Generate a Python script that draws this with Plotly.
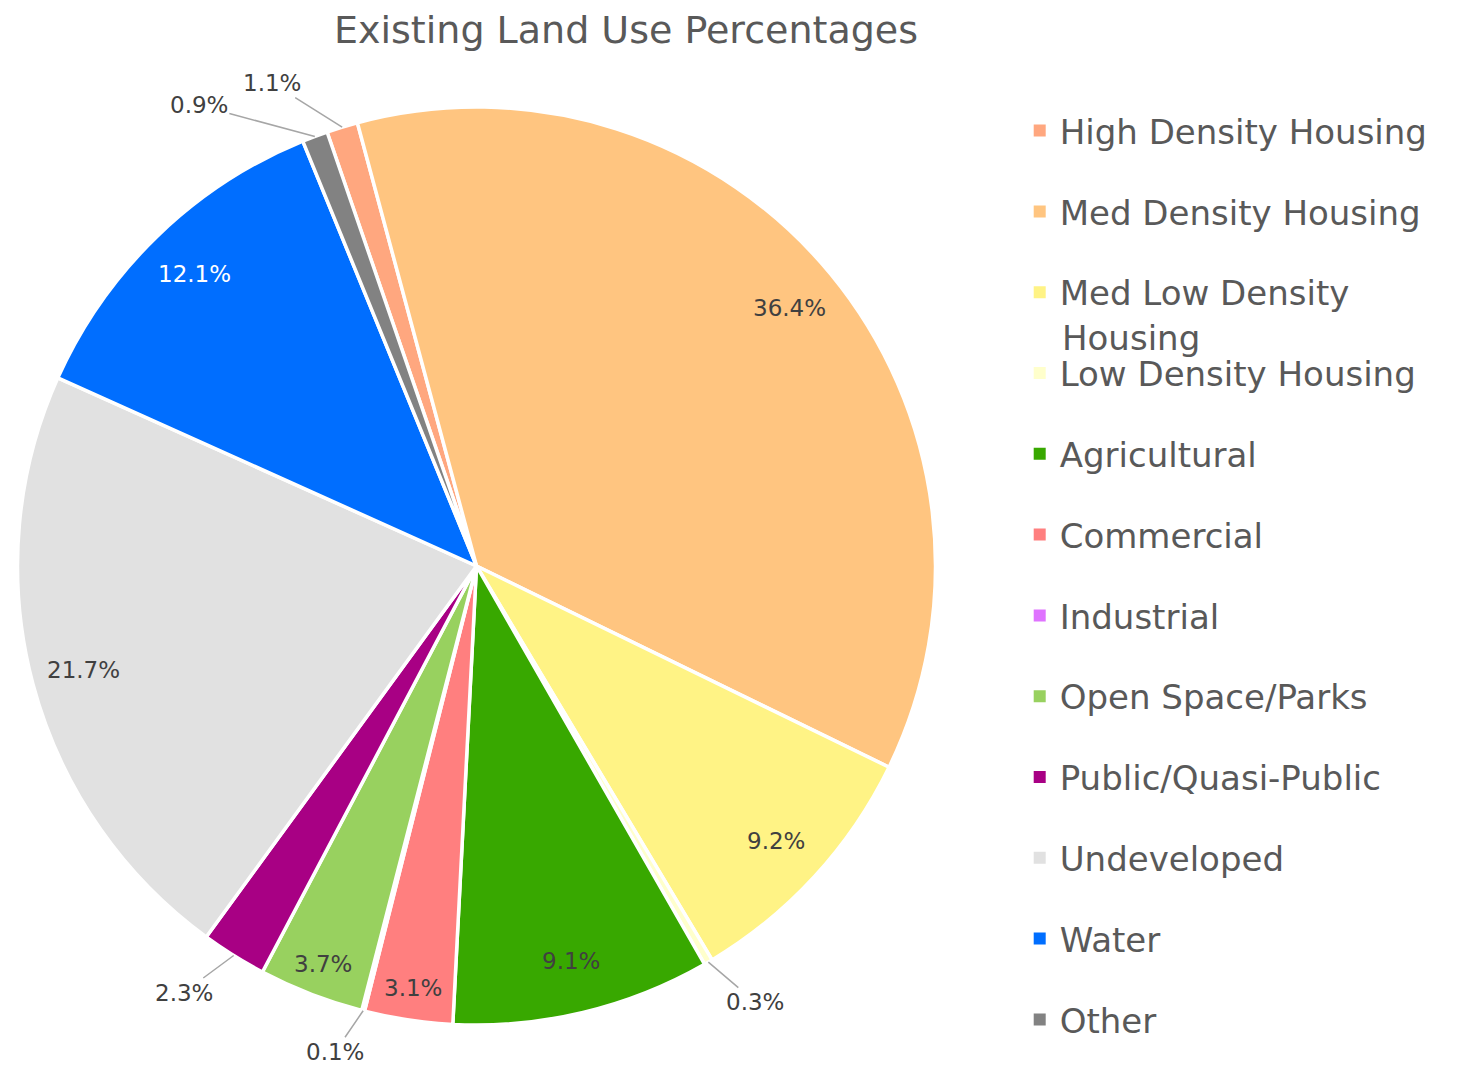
import math
import plotly.graph_objects as go

W, H = 1462, 1068
OFF = 8  # the page body adds an 8px margin around the figure

categories = ['High Density Housing', 'Med Density Housing', 'Med Low Density Housing',
              'Low Density Housing', 'Agricultural', 'Commercial', 'Industrial',
              'Open Space/Parks', 'Public/Quasi-Public', 'Undeveloped', 'Water', 'Other']
percentages = [1.1, 36.4, 9.2, 0.3, 9.1, 3.1, 0.1, 3.7, 2.3, 21.7, 12.1, 0.9]
colors = ['#FFA77F', '#FFC580', '#FFF385', '#FFFFCC', '#38A800', '#FF7F7F', '#DF73FF',
          '#98D15F', '#A80084', '#E1E1E1', '#006EFF', '#828282']
legend_names = ['High Density Housing', 'Med Density Housing', 'Med Low Density',
                'Low Density Housing', 'Agricultural', 'Commercial', 'Industrial',
                'Open Space/Parks', 'Public/Quasi-Public', 'Undeveloped', 'Water', 'Other']

# small slices get an outside label with a leader line (pixel offset of the text)
outside_offsets = {
    'High Density Housing': (-70, -44),
    'Other': (-116, -31),
    'Low Density Housing': (47, 40),
    'Industrial': (-28, 41),
    'Public/Quasi-Public': (-50, 37),
}
label_colors = {'Water': 'white'}

TEXT = '#595959'
LABEL = '#404040'
FONT = 'DejaVu Sans'
rotation = -19

# pie placement in figure pixels
cx, cy, r = 476.5 - OFF, 566 - OFF, 459
domain_x = [(cx - r) / W, (cx + r) / W]
domain_y = [1 - (cy + r) / H, 1 - (cy - r) / H]

fig = go.Figure()
fig.add_trace(go.Pie(
    labels=categories,
    values=percentages,
    sort=False,
    direction='clockwise',
    rotation=rotation,
    marker=dict(colors=colors, line=dict(color='white', width=3.5)),
    textinfo='none',
    hoverinfo='label+percent',
    showlegend=False,
    domain=dict(x=domain_x, y=domain_y),
))

# legend entries as dummy traces so the item spacing can be set
for name, col in zip(legend_names, colors):
    fig.add_trace(go.Scatter(
        x=[None], y=[None], mode='markers', name=name,
        legendgroup=name,
        marker=dict(symbol='square', size=13, color=col),
    ))

# data labels: inside ones along the bisector, small ones outside with leader lines
total = sum(percentages)
cum = 0
for c, v in zip(categories, percentages):
    ang = math.radians(rotation + 360 * (cum + v / 2) / total)
    if c in outside_offsets:
        px = cx + r * math.sin(ang)
        py = cy - r * math.cos(ang)
        ax, ay = outside_offsets[c]
        fig.add_annotation(
            x=px / W, y=1 - py / H, xref='paper', yref='paper',
            text=f'{v}%', showarrow=True, arrowhead=0, arrowwidth=1.5,
            arrowcolor='#A6A6A6', ax=ax, ay=ay, standoff=0,
            font=dict(family=FONT, size=23, color=LABEL),
        )
    else:
        rr = r * (0.885 if v > 5 else 0.93)
        px = cx + rr * math.sin(ang)
        py = cy - rr * math.cos(ang)
        fig.add_annotation(
            x=px / W, y=1 - py / H, xref='paper', yref='paper',
            xanchor='center', yanchor='middle',
            text=f'{v}%', showarrow=False,
            font=dict(family=FONT, size=23, color=label_colors.get(c, LABEL)),
        )
    cum += v

# second line of the wrapped legend entry
fig.add_annotation(
    x=(1060 - OFF) / W, y=1 - (338 - OFF) / H, xref='paper', yref='paper',
    xanchor='left', yanchor='middle', text='Housing', showarrow=False,
    font=dict(family=FONT, size=34, color=TEXT),
)

fig.update_layout(
    width=W, height=H,
    margin=dict(l=0, r=0, t=0, b=0),
    paper_bgcolor='white', plot_bgcolor='white',
    title=dict(text='Existing Land Use Percentages', x=(626 - OFF) / W, xanchor='center',
               y=1 - (30 - OFF) / H, yanchor='middle',
               font=dict(family=FONT, size=38, color=TEXT)),
    xaxis=dict(visible=False), yaxis=dict(visible=False),
    legend=dict(x=0.692, xanchor='left', y=0.912, yanchor='top',
                font=dict(family=FONT, size=34, color=TEXT),
                tracegroupgap=33.6, itemsizing='constant'),
)

fig.write_html('out.html')
